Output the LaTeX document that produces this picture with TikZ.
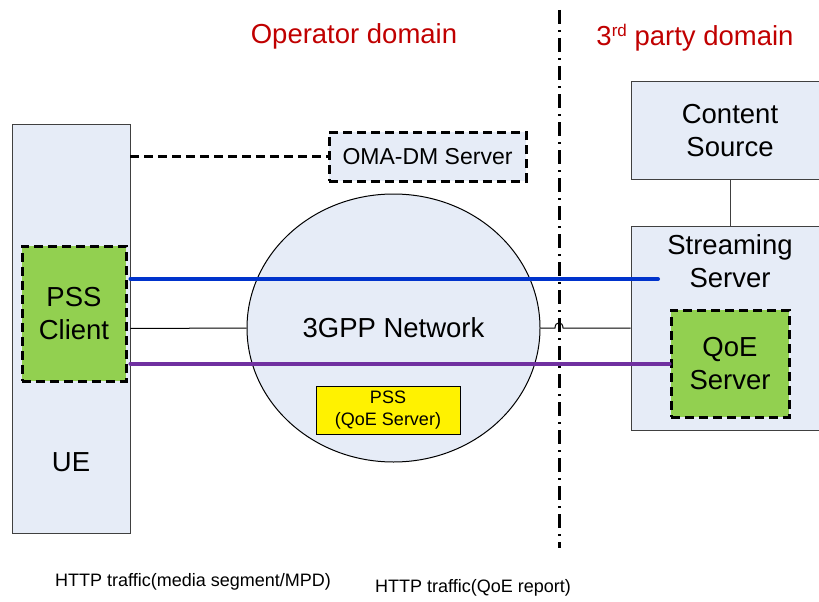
\documentclass[tikz,border=0pt]{standalone}
\usepackage{fontspec}
\setmainfont{Liberation Sans}
\usetikzlibrary{shapes.geometric,positioning,calc}
\definecolor{boxfill}{RGB}{230,236,247}
\definecolor{boxline}{RGB}{64,64,64}
\definecolor{pssgreen}{RGB}{146,208,80}
\definecolor{blueline}{RGB}{0,51,204}
\definecolor{purpleline}{RGB}{112,48,160}
\definecolor{domred}{RGB}{192,0,0}
\tikzstyle{block}=[draw=boxline, fill=boxfill, line width=0.9pt, inner sep=0pt, align=center, font=\fontsize{27.5}{33}\selectfont]
\tikzstyle{dblock}=[block, draw=black, line width=3pt, dash pattern=on 9pt off 5pt]
\tikzstyle{link}=[line width=4pt, line cap=round]
\tikzstyle{wire}=[line width=1pt]
\tikzstyle{oamlink}=[line width=2.5pt, dash pattern=on 9pt off 5pt]
\tikzstyle{boundary}=[line width=3pt, dash pattern=on 14pt off 6pt on 2pt off 6pt]
\tikzstyle{domlabel}=[text=domred, inner sep=0pt, font=\fontsize{27.5}{33}\selectfont]
\tikzstyle{note}=[inner sep=0pt, font=\fontsize{18}{22}\selectfont]

\begin{document}
\begin{tikzpicture}[x=1pt,y=-1pt]
\useasboundingbox (0,0) rectangle (819,602);

\coordinate (bndtop) at (559,10);
\coordinate (bndbot) at (559,548);
\draw[boundary] (bndtop) -- (bndbot);

\node (ue) [block, minimum width=118pt, minimum height=409pt] at (71,328.5) {};
\node (uelbl) [block, draw=none, fill=none] at (71,462) {UE};
\node (pss) [dblock, fill=pssgreen, minimum width=104pt, minimum height=135pt] at (74,313.5) {PSS\\Client};
\node (oma) [dblock, minimum width=197pt, minimum height=49pt, font=\fontsize{23}{27}\selectfont] at (427.5,156.5) {OMA-DM Server};
\node (net) [ellipse, draw, fill=boxfill, wire, inner sep=0pt, minimum width=293pt, minimum height=268pt, font=\fontsize{27.5}{33}\selectfont] at (393.5,328) {3GPP Network};
\node (psssrv) [block, draw=black, fill=yellow, wire, minimum width=144pt, minimum height=48pt, font=\fontsize{18}{22}\selectfont] at (388,410) {PSS\\(QoE Server)};

\node (stream) [block, minimum width=198pt, minimum height=204pt] at (730,328) {};
\node (content) [block, minimum width=198pt, minimum height=98pt, above=46pt of stream] {Content\\Source};
\node (streamlbl) [block, draw=none, fill=none] at (730,261.5) {Streaming\\Server};
\node (qoe) [dblock, fill=pssgreen, minimum width=118pt, minimum height=107pt] at (730,363.5) {QoE\\Server};
\draw[wire, draw=boxline] (content.south) -- (stream.north);

\draw[oamlink] (ue.east|-oma.west) -- (oma.west);
\coordinate (blueend) at (658,279);
\draw[link, draw=blueline] (ue.east|-blueend) -- (blueend);
\draw[link, draw=purpleline] (ue.east|-qoe.west) -- (qoe.west);
\draw[wire] (ue.east) -- (net.west);
\coordinate (hop) at (559,328);
\draw[wire] (net.east) -- ($(hop)+(-4,0)$) .. controls ($(hop)+(-4,-7)$) and ($(hop)+(4,-7)$) .. ($(hop)+(4,0)$) -- (stream.west);

\node (opdom) [domlabel] at (354,36) {Operator domain};
\node (tpdom) [domlabel] at (695,38) {3\raisebox{9pt}{\fontsize{17}{17}\selectfont rd} party domain};

\node (note1) [note] at (193,582) {HTTP traffic(media segment/MPD)};
\node (note2) [note] at (473,588) {HTTP traffic(QoE report)};
\end{tikzpicture}
\end{document}
